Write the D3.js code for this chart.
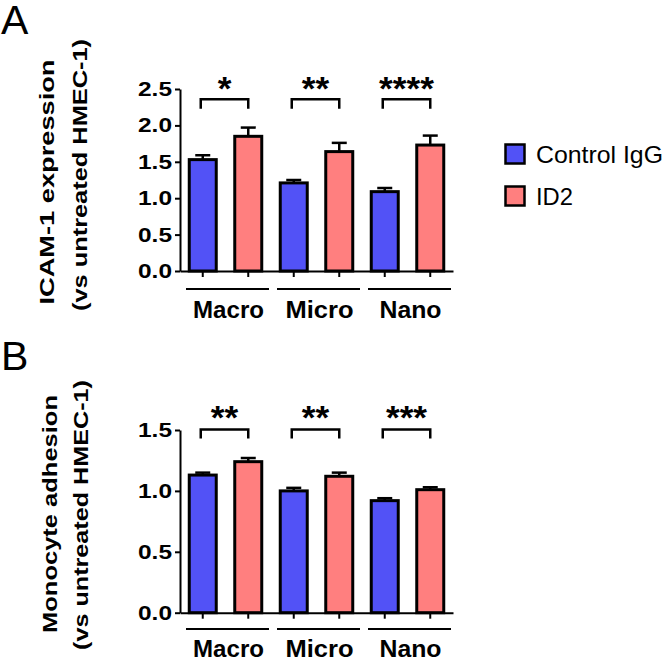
<!DOCTYPE html>
<html>
<head>
<meta charset="utf-8">
<script src="https://cdn.jsdelivr.net/npm/d3@7"></script>
<style>
  html, body { margin: 0; padding: 0; background: #fff; }
  svg { display: block; }
  text { font-family: "Liberation Sans", Arial, Helvetica, sans-serif; }
</style>
</head>
<body>
<svg id="chart" width="666" height="661"></svg>
<script>
// ---------------- data ----------------
const categories = ["Macro", "Micro", "Nano"];
const seriesNames = ["Control IgG", "ID2"];

const icamControl    = [1.53, 1.21, 1.09];
const icamControlErr = [0.06, 0.04, 0.05];
const icamID2        = [1.85, 1.64, 1.73];
const icamID2Err     = [0.12, 0.12, 0.13];
const icamStars      = ["*", "**", "****"];
const icamTicks      = [0, 0.5, 1.0, 1.5, 2.0, 2.5];

const adhControl    = [1.13, 1.00, 0.92];
const adhControlErr = [0.02, 0.025, 0.02];
const adhID2        = [1.24, 1.12, 1.01];
const adhID2Err     = [0.03, 0.03, 0.02];
const adhStars      = ["**", "**", "***"];
const adhTicks      = [0, 0.5, 1.0, 1.5];

// ---------------- style ----------------
const colors = ["#5252F6", "#FF7F7F"];
const svg = d3.select("#chart");

function fit(sel, w) {
  sel.attr("textLength", w).attr("lengthAdjust", "spacingAndGlyphs");
}

const panels = [
  {
    letter: "A", letterY: 34,
    yMax: 2.5, ticks: icamTicks, yTop: 89, yBottom: 271,
    series: [icamControl, icamID2], errs: [icamControlErr, icamID2Err],
    stars: icamStars, bracketV: 2.36, legV: 2.23, starBase: 100,
    groupLineY: 289, catBase: 318,
    title: ["ICAM-1 expression", "(vs untreated HMEC-1)"],
    titleX: [54, 87], titleCY: [182, 175], titleW: [245, 272]
  },
  {
    letter: "B", letterY: 370,
    yMax: 1.5, ticks: adhTicks, yTop: 430, yBottom: 612.7,
    series: [adhControl, adhID2], errs: [adhControlErr, adhID2Err],
    stars: adhStars, bracketV: 1.505, legV: 1.43, starBase: 429,
    groupLineY: 629, catBase: 657,
    title: ["Monocyte adhesion", "(vs untreated HMEC-1)"],
    titleX: [57, 88], titleCY: [514, 515], titleW: [238, 270]
  }
];

const xLeft = 180, xRight = 453;
const x0 = d3.scaleBand().domain(categories).range([xLeft, xRight]);
const x1 = d3.scaleBand().domain(seriesNames).range([-x0.step() / 2, x0.step() / 2]);
const barW = 27;
const catW = [71, 68, 62];

panels.forEach(p => {
  const y = d3.scaleLinear().domain([0, p.yMax]).range([p.yBottom, p.yTop]);
  const g = svg.append("g");

  // panel letter
  g.append("text").attr("x", 1).attr("y", p.letterY)
    .attr("font-size", 41).text(p.letter);

  // y title
  p.title.forEach((t, i) => {
    const tx = g.append("text")
      .attr("transform", `translate(${p.titleX[i]},${p.titleCY[i]}) rotate(-90)`)
      .attr("text-anchor", "middle").attr("font-size", 21).attr("font-weight", "bold")
      .text(t);
    fit(tx, p.titleW[i]);
  });

  const rows = [];
  categories.forEach((c, ci) => {
    seriesNames.forEach((s, si) => {
      rows.push({ c, s, si, v: p.series[si][ci], e: p.errs[si][ci],
                  cx: x0(c) + x0.bandwidth() / 2 + x1(s) + x1.bandwidth() / 2 });
    });
  });

  // error bars
  const eb = g.selectAll(".eb").data(rows).enter().append("g");
  eb.append("line")
    .attr("x1", d => d.cx).attr("x2", d => d.cx)
    .attr("y1", d => y(d.v)).attr("y2", d => y(d.v + d.e))
    .attr("stroke", "#000").attr("stroke-width", 2.5);
  eb.append("line")
    .attr("x1", d => d.cx - 7.5).attr("x2", d => d.cx + 7.5)
    .attr("y1", d => y(d.v + d.e)).attr("y2", d => y(d.v + d.e))
    .attr("stroke", "#000").attr("stroke-width", 2.5);

  // bars
  g.selectAll(".bar").data(rows).enter().append("rect")
    .attr("x", d => d.cx - barW / 2).attr("width", barW)
    .attr("y", d => y(d.v)).attr("height", d => y(0) - y(d.v))
    .attr("fill", d => colors[d.si])
    .attr("stroke", "#000").attr("stroke-width", 3);

  // y axis
  const ya = g.append("g").attr("transform", `translate(${xLeft},0)`)
    .call(d3.axisLeft(y).tickValues(p.ticks).tickFormat(d3.format(".1f"))
      .tickSize(5).tickSizeOuter(0).tickPadding(3));
  ya.select(".domain").attr("stroke-width", 2);
  ya.selectAll(".tick line").attr("stroke-width", 2);
  ya.selectAll(".tick text")
    .attr("font-family", "Liberation Sans, Arial, sans-serif")
    .attr("font-size", 20).attr("font-weight", "bold").attr("fill", "#000")
    .call(s => fit(s, 34));

  // x axis line
  const xa = g.append("g").attr("transform", `translate(0,${y(0)})`)
    .call(d3.axisBottom(x0).tickValues([]).tickSizeOuter(0));
  xa.select(".domain").attr("stroke-width", 2);
  xa.selectAll(".bt").data(rows).enter().append("line")
    .attr("x1", d => d.cx).attr("x2", d => d.cx)
    .attr("y1", 0).attr("y2", 6)
    .attr("stroke", "#000").attr("stroke-width", 2);

  // group lines & labels
  categories.forEach((c, ci) => {
    const a = x0(c) + 6, b = x0(c) + x0.step() - 2;
    g.append("line").attr("x1", a).attr("x2", b)
      .attr("y1", p.groupLineY).attr("y2", p.groupLineY)
      .attr("stroke", "#000").attr("stroke-width", 2);
    const t = g.append("text").attr("x", (a + b) / 2 + 1).attr("y", p.catBase)
      .attr("text-anchor", "middle").attr("font-size", 23.5).attr("font-weight", "bold")
      .text(c);
    fit(t, catW[ci]);
  });

  // significance brackets
  categories.forEach((c, ci) => {
    const xa_ = x0(c) + x0.bandwidth() / 2 + x1(seriesNames[0]) + x1.bandwidth() / 2 - 2;
    const xb_ = x0(c) + x0.bandwidth() / 2 + x1(seriesNames[1]) + x1.bandwidth() / 2;
    g.append("path")
      .attr("d", `M${xa_},${y(p.legV)}V${y(p.bracketV)}H${xb_}V${y(p.legV)}`)
      .attr("fill", "none").attr("stroke", "#000").attr("stroke-width", 2.5);
    const st = g.append("text").attr("x", (xa_ + xb_) / 2).attr("y", p.starBase)
      .attr("text-anchor", "middle").attr("font-size", 34).attr("font-weight", "bold")
      .text(p.stars[ci]);
    fit(st, p.stars[ci].length * 13.7);
  });
});

// legend
const legW = [127, 37];
seriesNames.forEach((s, i) => {
  const ly = 143 + i * 42;
  svg.append("rect").attr("x", 505.5).attr("y", ly + 1.5).attr("width", 19).attr("height", 19)
    .attr("fill", colors[i]).attr("stroke", "#000").attr("stroke-width", 2.5);
  const t = svg.append("text").attr("x", 536).attr("y", ly + 20)
    .attr("font-size", 24).text(s);
  fit(t, legW[i]);
});
</script>
</body>
</html>
